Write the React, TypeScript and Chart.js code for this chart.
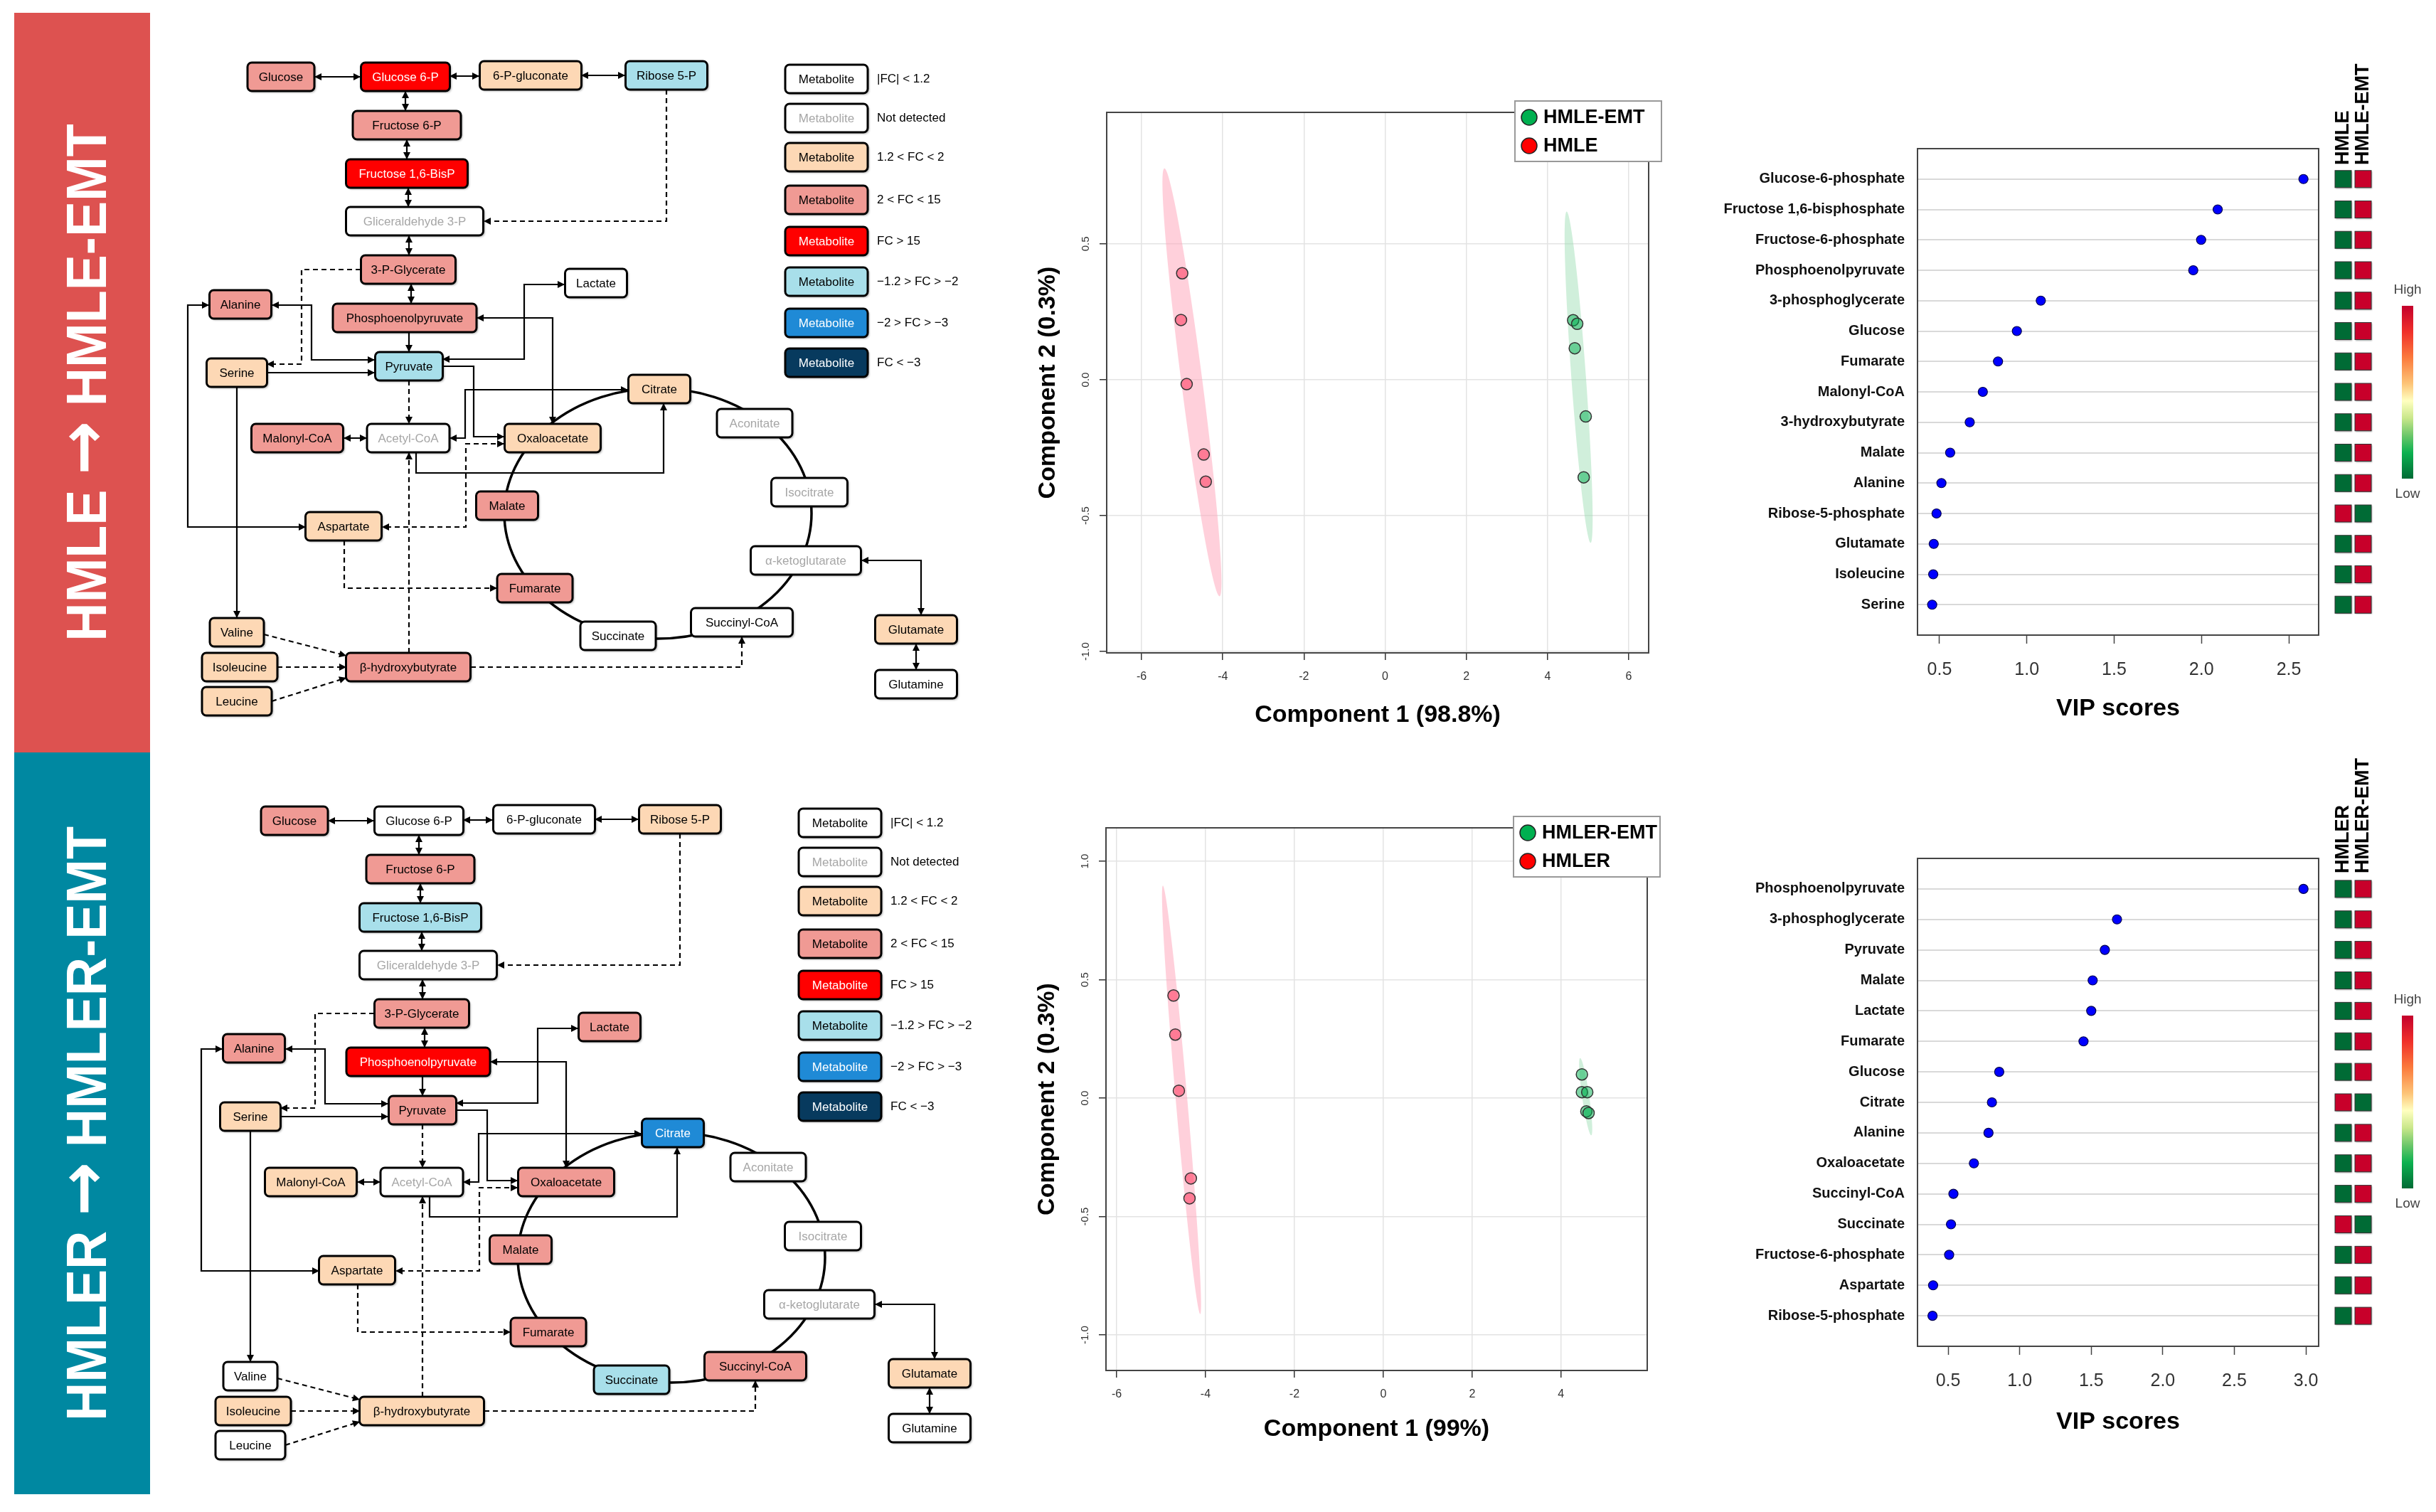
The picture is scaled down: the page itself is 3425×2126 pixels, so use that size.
import React, { useEffect, useRef } from 'react';
import { Chart, registerables } from 'chart.js';

Chart.register(...registerables);

const FONT = '"Liberation Sans", Arial, Helvetica, sans-serif';
Chart.defaults.font.family = FONT;

// ================= Pathway maps =================
const METABOLITES = ['Glucose', 'Glucose 6-P', '6-P-gluconate', 'Ribose 5-P', 'Fructose 6-P', 'Fructose 1,6-BisP',
  'Gliceraldehyde 3-P', '3-P-Glycerate', 'Phosphoenolpyruvate', 'Pyruvate', 'Alanine', 'Serine', 'Lactate', 'Citrate',
  'Malonyl-CoA', 'Acetyl-CoA', 'Oxaloacetate', 'Aconitate', 'Isocitrate', 'Malate', 'Aspartate', '\u03B1-ketoglutarate',
  'Fumarate', 'Succinate', 'Succinyl-CoA', 'Glutamate', 'Glutamine', 'Valine', 'Isoleucine', 'Leucine', '\u03B2-hydroxybutyrate'];
// diagram coordinates of node centres and node widths (diagram units)
const NODE_X = [395, 570, 746, 937, 572, 572, 583, 574, 569, 575, 338, 333, 838, 927, 418, 574, 777, 1061, 1138, 713, 483, 1133, 752, 869, 1043, 1288, 1288, 333, 337, 333, 574];
const NODE_Y = [108, 108, 106, 106, 176, 244, 311, 379, 447, 515, 428, 524, 398, 547, 616, 616, 616, 595, 692, 711, 740, 788, 827, 894, 875, 885, 962, 889, 938, 986, 938];
const NODE_W = [94, 125, 143, 115, 152, 171, 193, 133, 202, 95, 87, 85, 87, 87, 129, 116, 135, 106, 107, 87, 107, 155, 106, 106, 143, 115, 115, 76, 106, 98, 175];
// fold-change class of each metabolite (index into legend classes)
const LEVELS_HMLE = [3, 4, 2, 5, 3, 4, 1, 3, 3, 5, 3, 2, 0, 2, 3, 1, 2, 1, 1, 3, 2, 1, 3, 0, 0, 2, 0, 2, 2, 2, 3];
const LEVELS_HMLER = [3, 0, 0, 2, 3, 5, 1, 3, 4, 3, 3, 2, 3, 6, 2, 1, 3, 1, 1, 3, 2, 1, 3, 5, 3, 2, 0, 0, 2, 0, 2];
const LEGEND_LABELS = ['|FC| < 1.2', 'Not detected', '1.2 < FC < 2', '2 < FC < 15', 'FC > 15',
  '\u22121.2 > FC > \u22122', '\u22122 > FC > \u22123', 'FC < \u22123'];
const LEGEND_Y = [111, 166, 221, 281, 339, 396, 454, 510];
const LEVEL_FILL = ['#FFFFFF', '#FFFFFF', '#FDD8B5', '#F09A94', '#FF0000', '#A8DFEA', '#1F8AD6', '#073A5E'];
const LEVEL_TEXT = ['#000000', '#A6A6A6', '#000000', '#000000', '#FFFFFF', '#000000', '#FFFFFF', '#FFFFFF'];

type Edge = { p: number[][]; d?: boolean; s?: boolean; e?: boolean };
const EDGES: Edge[] = [
  { p: [[442, 108], [507, 108]], s: true, e: true },
  { p: [[632, 107], [674, 107]], s: true, e: true },
  { p: [[817, 106], [879, 106]], s: true, e: true },
  { p: [[570, 128], [570, 156]], s: true, e: true },
  { p: [[572, 196], [572, 224]], s: true, e: true },
  { p: [[574, 264], [574, 291]], s: true, e: true },
  { p: [[937, 126], [937, 311], [680, 311]], d: true, e: true },
  { p: [[575, 331], [575, 359]], s: true, e: true },
  { p: [[578, 399], [578, 427]], s: true, e: true },
  { p: [[507, 379], [424, 379], [424, 512], [375, 512]], d: true, e: true },
  { p: [[575, 467], [575, 495]], e: true },
  { p: [[527, 506], [438, 506], [438, 429], [382, 429]], s: true, e: true },
  { p: [[375, 524], [527, 524]], e: true },
  { p: [[622, 505], [737, 505], [737, 400], [794, 400]], s: true, e: true },
  { p: [[670, 447], [777, 447], [777, 596]], s: true, e: true },
  { p: [[622, 515], [666, 515], [666, 614], [709, 614]], e: true },
  { p: [[575, 535], [575, 596]], d: true, e: true },
  { p: [[483, 616], [516, 616]], s: true, e: true },
  { p: [[632, 616], [654, 616], [654, 548], [883, 548]], s: true, e: true },
  { p: [[585, 636], [585, 665], [933, 665], [933, 567]], e: true },
  { p: [[294, 429], [264, 429], [264, 741], [430, 741]], s: true, e: true },
  { p: [[709, 624], [655, 624], [655, 741], [537, 741]], d: true, s: true, e: true },
  { p: [[484, 760], [484, 827], [699, 827]], d: true, e: true },
  { p: [[333, 544], [333, 869]], e: true },
  { p: [[371, 892], [487, 922]], d: true, e: true },
  { p: [[390, 938], [487, 938]], d: true, e: true },
  { p: [[382, 986], [487, 953]], d: true, e: true },
  { p: [[575, 918], [575, 636]], d: true, e: true },
  { p: [[662, 938], [1043, 938], [1043, 895]], d: true, e: true },
  { p: [[1211, 788], [1295, 788], [1295, 865]], s: true, e: true },
  { p: [[1288, 905], [1288, 942]], s: true, e: true },
];
const TCA_CX = 925, TCA_CY = 722, TCA_RX = 216, TCA_RY = 176;

// ================= PLS-DA score plots =================
const PLS1_GROUPS = ['HMLE-EMT', 'HMLE'];
const PLS1_EMT_X = [4.63, 4.73, 4.67, 4.94, 4.89];
const PLS1_EMT_Y = [0.219, 0.206, 0.116, -0.135, -0.359];
const PLS1_CTRL_X = [-5.0, -5.03, -4.89, -4.47, -4.42];
const PLS1_CTRL_Y = [0.392, 0.22, -0.016, -0.275, -0.375];
const PLS1_EMT_ELLIPSE = [4.47, 0.619, 5.06, -0.6, 0.18];
const PLS1_CTRL_ELLIPSE = [-5.44, 0.778, -4.08, -0.797, 0.26];
const PLS1_X_TICKS = [-6, -4, -2, 0, 2, 4, 6];
const PLS1_Y_TICKS = [-1.0, -0.5, 0.0, 0.5];
const PLS1_X_TITLE = 'Component 1 (98.8%)';

const PLS2_GROUPS = ['HMLER-EMT', 'HMLER'];
const PLS2_EMT_X = [4.47, 4.47, 4.59, 4.57, 4.62];
const PLS2_EMT_Y = [0.1, 0.025, 0.025, -0.056, -0.063];
const PLS2_CTRL_X = [-4.72, -4.68, -4.6, -4.33, -4.36];
const PLS2_CTRL_Y = [0.433, 0.268, 0.031, -0.339, -0.423];
const PLS2_EMT_ELLIPSE = [4.43, 0.169, 4.68, -0.157, 0.08];
const PLS2_CTRL_ELLIPSE = [-4.96, 0.897, -4.12, -0.912, 0.13];
const PLS2_X_TICKS = [-6, -4, -2, 0, 2, 4];
const PLS2_Y_TICKS = [-1.0, -0.5, 0.0, 0.5, 1.0];
const PLS2_X_TITLE = 'Component 1 (99%)';
const PLS_Y_TITLE = 'Component 2 (0.3%)';

// ================= VIP scores =================
const VIP1_NAMES = ['Glucose-6-phosphate', 'Fructose 1,6-bisphosphate', 'Fructose-6-phosphate', 'Phosphoenolpyruvate',
  '3-phosphoglycerate', 'Glucose', 'Fumarate', 'Malonyl-CoA', '3-hydroxybutyrate', 'Malate', 'Alanine',
  'Ribose-5-phosphate', 'Glutamate', 'Isoleucine', 'Serine'];
const VIP1_SCORES = [2.584, 2.093, 1.998, 1.953, 1.08, 0.943, 0.835, 0.748, 0.673, 0.561, 0.511, 0.483, 0.467, 0.464, 0.458];
const VIP1_CTRL_HIGH = [0, 0, 0, 0, 0, 0, 0, 0, 0, 0, 0, 1, 0, 0, 0];
const VIP1_EMT_HIGH = [1, 1, 1, 1, 1, 1, 1, 1, 1, 1, 1, 0, 1, 1, 1];
const VIP1_X_TICKS = [0.5, 1.0, 1.5, 2.0, 2.5];

const VIP2_NAMES = ['Phosphoenolpyruvate', '3-phosphoglycerate', 'Pyruvate', 'Malate', 'Lactate', 'Fumarate', 'Glucose',
  'Citrate', 'Alanine', 'Oxaloacetate', 'Succinyl-CoA', 'Succinate', 'Fructose-6-phosphate', 'Aspartate', 'Ribose-5-phosphate'];
const VIP2_SCORES = [2.983, 1.68, 1.595, 1.51, 1.5, 1.446, 0.857, 0.806, 0.782, 0.68, 0.537, 0.52, 0.507, 0.395, 0.391];
const VIP2_CTRL_HIGH = [0, 0, 0, 0, 0, 0, 0, 1, 0, 0, 0, 1, 0, 0, 0];
const VIP2_EMT_HIGH = [1, 1, 1, 1, 1, 1, 1, 0, 1, 1, 1, 0, 1, 1, 1];
const VIP2_X_TICKS = [0.5, 1.0, 1.5, 2.0, 2.5, 3.0];

// ================= helpers =================
function roundRectPath(ctx: CanvasRenderingContext2D, x: number, y: number, w: number, h: number, r: number) {
  ctx.beginPath();
  ctx.moveTo(x + r, y);
  ctx.lineTo(x + w - r, y);
  ctx.arcTo(x + w, y, x + w, y + r, r);
  ctx.lineTo(x + w, y + h - r);
  ctx.arcTo(x + w, y + h, x + w - r, y + h, r);
  ctx.lineTo(x + r, y + h);
  ctx.arcTo(x, y + h, x, y + h - r, r);
  ctx.lineTo(x, y + r);
  ctx.arcTo(x, y, x + r, y, r);
  ctx.closePath();
}

function arrowHead(ctx: CanvasRenderingContext2D, fx: number, fy: number, tx: number, ty: number) {
  const len = 10, hw = 5;
  const a = Math.atan2(ty - fy, tx - fx);
  ctx.beginPath();
  ctx.moveTo(tx, ty);
  ctx.lineTo(tx - len * Math.cos(a) + hw * Math.sin(a), ty - len * Math.sin(a) - hw * Math.cos(a));
  ctx.lineTo(tx - len * Math.cos(a) - hw * Math.sin(a), ty - len * Math.sin(a) + hw * Math.cos(a));
  ctx.closePath();
  ctx.fill();
}

function drawBox(ctx: CanvasRenderingContext2D, cx: number, cy: number, w: number, h: number, text: string, level: number) {
  const x = cx - w / 2, y = cy - h / 2;
  ctx.save();
  ctx.shadowColor = 'rgba(0,0,0,0.35)';
  ctx.shadowBlur = 3;
  ctx.shadowOffsetX = 2;
  ctx.shadowOffsetY = 2;
  roundRectPath(ctx, x, y, w, h, 6);
  ctx.fillStyle = LEVEL_FILL[level];
  ctx.fill();
  ctx.shadowColor = 'transparent';
  ctx.lineWidth = 3;
  ctx.strokeStyle = '#000';
  ctx.stroke();
  ctx.fillStyle = LEVEL_TEXT[level];
  ctx.font = `17px ${FONT}`;
  ctx.textAlign = 'center';
  ctx.textBaseline = 'middle';
  ctx.fillText(text, cx, cy + 1);
  ctx.restore();
}

// ================= components =================
function Banner({ top, height, color, from, to, sx }: { top: number; height: number; color: string; from: string; to: string; sx: number }) {
  return (
    <div style={{ position: 'absolute', left: 20, top, width: 191, height, background: color, display: 'flex', alignItems: 'center', justifyContent: 'center', overflow: 'visible' }}>
      <span style={{ color: '#fff', fontFamily: FONT, fontWeight: 700, fontSize: 80, lineHeight: 1, whiteSpace: 'nowrap', display: 'inline-block', transform: `rotate(-90deg) scaleX(${sx})` }}>
        {from} <span style={{ fontFamily: '"DejaVu Sans", sans-serif', fontWeight: 700, fontSize: 96 }}>{'\u2192'}</span> {to}
      </span>
    </div>
  );
}

function Pathway({ left, top, levels }: { left: number; top: number; levels: number[] }) {
  const ref = useRef<HTMLCanvasElement>(null);
  const W = 1180, H = 1000;
  useEffect(() => {
    if (!ref.current) return;
    const plugin = {
      id: 'pathway',
      afterDatasetsDraw(chart: any) {
        const ctx: CanvasRenderingContext2D = chart.ctx;
        const sx = chart.scales.x, sy = chart.scales.y;
        const X = (v: number) => sx.getPixelForValue(v);
        const Y = (v: number) => sy.getPixelForValue(v);
        ctx.save();
        // TCA cycle
        ctx.strokeStyle = '#000';
        ctx.lineWidth = 3.5;
        ctx.beginPath();
        ctx.ellipse(X(TCA_CX), Y(TCA_CY), X(TCA_CX + TCA_RX) - X(TCA_CX), Y(TCA_CY + TCA_RY) - Y(TCA_CY), 0, 0, Math.PI * 2);
        ctx.stroke();
        // reactions
        ctx.lineWidth = 2.2;
        ctx.fillStyle = '#000';
        EDGES.forEach((e) => {
          const pts = e.p.map(([a, b]) => [X(a), Y(b)]);
          ctx.setLineDash(e.d ? [7, 5] : []);
          ctx.beginPath();
          pts.forEach(([a, b], i) => (i ? ctx.lineTo(a, b) : ctx.moveTo(a, b)));
          ctx.stroke();
          ctx.setLineDash([]);
          if (e.s) arrowHead(ctx, pts[1][0], pts[1][1], pts[0][0], pts[0][1]);
          if (e.e) {
            const n = pts.length;
            arrowHead(ctx, pts[n - 2][0], pts[n - 2][1], pts[n - 1][0], pts[n - 1][1]);
          }
        });
        // metabolites
        METABOLITES.forEach((name, i) => {
          const w = X(NODE_X[i] + NODE_W[i] / 2) - X(NODE_X[i] - NODE_W[i] / 2);
          drawBox(ctx, X(NODE_X[i]), Y(NODE_Y[i]), w, 40, name, levels[i]);
        });
        // legend
        LEGEND_LABELS.forEach((lab, i) => {
          drawBox(ctx, X(1162), Y(LEGEND_Y[i]), 116, 40, 'Metabolite', i);
          ctx.fillStyle = '#000';
          ctx.font = `17px ${FONT}`;
          ctx.textAlign = 'left';
          ctx.textBaseline = 'middle';
          ctx.fillText(lab, X(1233), Y(LEGEND_Y[i]));
        });
        ctx.restore();
      },
    };
    const chart = new Chart(ref.current, {
      type: 'scatter',
      data: { datasets: [{ data: NODE_X.map((x, i) => ({ x, y: NODE_Y[i] })), pointRadius: 0 }] },
      options: {
        responsive: false, animation: false, events: [],
        layout: { padding: 0 },
        plugins: { legend: { display: false }, tooltip: { enabled: false } },
        scales: {
          x: { type: 'linear', min: 240, max: 1420, display: false },
          y: { type: 'linear', min: 40, max: 1040, reverse: true, display: false },
        },
      },
      plugins: [plugin],
    } as any);
    return () => chart.destroy();
  }, []);
  return <canvas ref={ref} width={W} height={H} style={{ position: 'absolute', left, top, width: W, height: H }} />;
}

type ScoreProps = {
  left: number; top: number; area: number[]; xMin: number; xMax: number; yMin: number; yMax: number;
  xTicks: number[]; yTicks: number[]; xTitle: string; xTitleCy: number; yTitleCx: number;
  groups: string[]; emtX: number[]; emtY: number[]; ctrlX: number[]; ctrlY: number[]; emtEll: number[]; ctrlEll: number[];
};

function ScorePlot(p: ScoreProps) {
  const ref = useRef<HTMLCanvasElement>(null);
  const W = 940, H = 950;
  useEffect(() => {
    if (!ref.current) return;
    const [al, at, ar, ab] = p.area;
    const padTop = at - p.top, padRight = p.left + W - ar, yW = al - p.left, xH = p.top + H - ab;
    const titleLH = 34 * 1.2;
    const xPb = p.top + H - p.xTitleCy - titleLH / 2;
    const yPt = p.yTitleCx - p.left - titleLH / 2;
    const ells = [
      { e: p.emtEll, c: 'rgba(150,220,175,0.45)' },
      { e: p.ctrlEll, c: 'rgba(255,170,190,0.55)' },
    ];
    const plugin = {
      id: 'plsExtras',
      beforeDatasetsDraw(chart: any) {
        const { ctx, chartArea: a } = chart;
        const sx = chart.scales.x, sy = chart.scales.y;
        ctx.save();
        ctx.beginPath();
        ctx.rect(a.left, a.top, a.right - a.left, a.bottom - a.top);
        ctx.clip();
        ells.forEach(({ e, c }) => {
          const [x1, y1, x2, y2, hw] = e;
          const p1x = sx.getPixelForValue(x1), p1y = sy.getPixelForValue(y1);
          const p2x = sx.getPixelForValue(x2), p2y = sy.getPixelForValue(y2);
          const ra = Math.hypot(p2x - p1x, p2y - p1y) / 2;
          const rb = Math.abs(sx.getPixelForValue(x1 + hw) - p1x);
          const ang = Math.atan2(p2y - p1y, p2x - p1x);
          ctx.beginPath();
          ctx.ellipse((p1x + p2x) / 2, (p1y + p2y) / 2, ra, rb, ang, 0, Math.PI * 2);
          ctx.fillStyle = c;
          ctx.fill();
        });
        ctx.restore();
      },
      afterDraw(chart: any) {
        const { ctx, chartArea: a } = chart;
        const sy = chart.scales.y;
        ctx.save();
        ctx.strokeStyle = '#444';
        ctx.lineWidth = 2;
        ctx.strokeRect(a.left, a.top, a.right - a.left, a.bottom - a.top);
        // rotated y tick labels
        ctx.fillStyle = '#333';
        ctx.font = `15px ${FONT}`;
        ctx.textAlign = 'center';
        ctx.textBaseline = 'middle';
        p.yTicks.forEach((v) => {
          const py = sy.getPixelForValue(v);
          ctx.save();
          ctx.translate(a.left - 29, py);
          ctx.rotate(-Math.PI / 2);
          ctx.fillText(v.toFixed(1), 0, 0);
          ctx.restore();
        });
        // legend
        const lx = a.right - 188, ly = a.top - 16, lw = 206, lh = 85;
        ctx.fillStyle = '#fff';
        ctx.fillRect(lx, ly, lw, lh);
        ctx.strokeStyle = '#999';
        ctx.lineWidth = 2;
        ctx.strokeRect(lx, ly, lw, lh);
        const cols = ['#00B050', '#FF0000'];
        p.groups.forEach((g, i) => {
          const cy = ly + 23 + i * 40;
          ctx.beginPath();
          ctx.arc(lx + 20, cy, 11, 0, Math.PI * 2);
          ctx.fillStyle = cols[i];
          ctx.fill();
          ctx.lineWidth = 1.5;
          ctx.strokeStyle = '#222';
          ctx.stroke();
          ctx.fillStyle = '#000';
          ctx.font = `bold 27px ${FONT}`;
          ctx.textAlign = 'left';
          ctx.textBaseline = 'middle';
          ctx.fillText(g, lx + 40, cy + 1);
        });
        ctx.restore();
      },
    };
    const chart = new Chart(ref.current, {
      type: 'scatter',
      data: {
        datasets: [
          {
            label: p.groups[0], data: p.emtX.map((x, i) => ({ x, y: p.emtY[i] })),
            backgroundColor: 'rgba(0,176,80,0.5)', borderColor: '#333', borderWidth: 1.5, pointRadius: 8,
          },
          {
            label: p.groups[1], data: p.ctrlX.map((x, i) => ({ x, y: p.ctrlY[i] })),
            backgroundColor: 'rgba(255,40,80,0.5)', borderColor: '#333', borderWidth: 1.5, pointRadius: 8,
          },
        ],
      },
      options: {
        responsive: false, animation: false, events: [],
        layout: { padding: { top: padTop, right: padRight, left: 0, bottom: 0 } },
        plugins: { legend: { display: false }, tooltip: { enabled: false } },
        scales: {
          x: {
            type: 'linear', min: p.xMin, max: p.xMax,
            afterBuildTicks: (s: any) => { s.ticks = p.xTicks.map((v) => ({ value: v })); },
            afterFit: (s: any) => { s.height = xH; },
            grid: { color: '#E3E3E3', lineWidth: 1.5, tickColor: '#333', tickLength: 10, tickWidth: 1.5 },
            border: { display: false },
            ticks: { color: '#333', font: { size: 16 }, padding: 14, maxRotation: 0, callback: (v: any) => String(v) },
            title: { display: true, text: p.xTitle, color: '#000', font: { size: 34, weight: 'bold' }, padding: { top: 0, bottom: xPb } },
          },
          y: {
            type: 'linear', min: p.yMin, max: p.yMax,
            afterBuildTicks: (s: any) => { s.ticks = p.yTicks.map((v) => ({ value: v })); },
            afterFit: (s: any) => { s.width = yW; },
            grid: { color: '#E3E3E3', lineWidth: 1.5, tickColor: '#333', tickLength: 10, tickWidth: 1.5 },
            border: { display: false },
            ticks: { display: false },
            title: { display: true, text: PLS_Y_TITLE, color: '#000', font: { size: 34, weight: 'bold' }, padding: { top: yPt, bottom: 0 } },
          },
        },
      },
      plugins: [plugin],
    } as any);
    return () => chart.destroy();
  }, []);
  return <canvas ref={ref} width={W} height={H} style={{ position: 'absolute', left: p.left, top: p.top, width: W, height: H }} />;
}

type VipProps = {
  top: number; area: number[]; xMin: number; xMax: number; xTicks: number[]; titleCy: number;
  names: string[]; scores: number[]; ctrlHigh: number[]; emtHigh: number[]; groups: string[]; headerDrop: number;
};

function VipPlot(p: VipProps) {
  const ref = useRef<HTMLCanvasElement>(null);
  const left = 2380, W = 1045, H = 1000;
  useEffect(() => {
    if (!ref.current) return;
    const [al, at, ar, ab] = p.area;
    const padTop = at - p.top, padRight = left + W - ar, yW = al - left, xH = p.top + H - ab;
    const xPb = p.top + H - p.titleCy - (34 * 1.2) / 2;
    const plugin = {
      id: 'vipExtras',
      afterDraw(chart: any) {
        const { ctx, chartArea: a } = chart;
        const sy = chart.scales.y;
        ctx.save();
        ctx.strokeStyle = '#444';
        ctx.lineWidth = 2;
        ctx.strokeRect(a.left, a.top, a.right - a.left, a.bottom - a.top);
        // heat squares
        const GREEN = '#006B35', RED = '#C8002A';
        p.names.forEach((_, i) => {
          const cy = sy.getPixelForValue(i);
          [p.ctrlHigh[i], p.emtHigh[i]].forEach((hi, j) => {
            const x0 = a.right + 23 + j * 28;
            ctx.save();
            ctx.shadowColor = 'rgba(0,0,0,0.35)';
            ctx.shadowBlur = 2;
            ctx.shadowOffsetX = 1;
            ctx.shadowOffsetY = 1;
            ctx.fillStyle = hi ? RED : GREEN;
            ctx.fillRect(x0, cy - 12, 23, 24);
            ctx.restore();
            ctx.strokeStyle = '#333';
            ctx.lineWidth = 1;
            ctx.strokeRect(x0, cy - 12, 23, 24);
          });
        });
        // column headers
        ctx.fillStyle = '#000';
        ctx.font = `bold 27px ${FONT}`;
        ctx.textAlign = 'left';
        ctx.textBaseline = 'middle';
        p.groups.forEach((g, j) => {
          ctx.save();
          ctx.translate(a.right + 35 + j * 28, a.top + p.headerDrop);
          ctx.rotate(-Math.PI / 2);
          ctx.fillText(g, 0, 0);
          ctx.restore();
        });
        // colour key
        const bx = a.right + 117, bt = a.top + 221, bb = a.top + 464;
        const grad = ctx.createLinearGradient(0, bt, 0, bb);
        const stops: [number, string][] = [[0, '#C4002C'], [0.15, '#F0302A'], [0.3, '#FB7A3C'], [0.45, '#FDC477'], [0.55, '#FFFFC0'],
          [0.65, '#C9E78A'], [0.75, '#6CC76A'], [0.85, '#0CB150'], [1, '#006B35']];
        stops.forEach(([o, c]) => grad.addColorStop(o, c));
        ctx.fillStyle = grad;
        ctx.fillRect(bx, bt, 16, bb - bt);
        ctx.fillStyle = '#444';
        ctx.font = `19px ${FONT}`;
        ctx.textAlign = 'center';
        ctx.fillText('High', bx + 8, a.top + 199);
        ctx.fillText('Low', bx + 8, a.top + 486);
        ctx.restore();
      },
    };
    const chart = new Chart(ref.current, {
      type: 'scatter',
      data: {
        datasets: [{
          label: 'VIP', data: p.scores.map((v, i) => ({ x: v, y: i })),
          backgroundColor: '#0000FF', borderColor: '#000050', borderWidth: 1.2, pointRadius: 6.5,
        }],
      },
      options: {
        responsive: false, animation: false, events: [],
        layout: { padding: { top: padTop, right: padRight, left: 0, bottom: 0 } },
        plugins: { legend: { display: false }, tooltip: { enabled: false } },
        scales: {
          x: {
            type: 'linear', min: p.xMin, max: p.xMax,
            afterBuildTicks: (s: any) => { s.ticks = p.xTicks.map((v) => ({ value: v })); },
            afterFit: (s: any) => { s.height = xH; },
            grid: { drawOnChartArea: false, drawTicks: true, tickColor: '#444', tickLength: 12, tickWidth: 1.5 },
            border: { display: false },
            ticks: { color: '#333', font: { size: 25 }, padding: 22, maxRotation: 0, callback: (v: any) => Number(v).toFixed(1) },
            title: { display: true, text: 'VIP scores', color: '#000', font: { size: 34, weight: 'bold' }, padding: { top: 0, bottom: xPb } },
          },
          y: {
            type: 'linear', min: -1, max: p.names.length, reverse: true,
            afterBuildTicks: (s: any) => { s.ticks = p.names.map((_, i) => ({ value: i })); },
            afterFit: (s: any) => { s.width = yW; },
            grid: { color: '#D9D9D9', lineWidth: 2, drawTicks: false },
            border: { display: false },
            ticks: { color: '#111', font: { size: 20, weight: 'bold' }, padding: 18, callback: (v: any) => p.names[v] ?? '' },
          },
        },
      },
      plugins: [plugin],
    } as any);
    return () => chart.destroy();
  }, []);
  return <canvas ref={ref} width={W} height={H} style={{ position: 'absolute', left, top: p.top, width: W, height: H }} />;
}

export default function App() {
  return (
    <div style={{ position: 'absolute', left: 0, top: 0, width: 3425, height: 2126, background: '#fff', overflow: 'hidden', fontFamily: FONT }}>
      <Banner top={18} height={1040} color="#DD5250" from="HMLE" to="HMLE-EMT" sx={0.94} />
      <Banner top={1058} height={1043} color="#0088A1" from="HMLER" to="HMLER-EMT" sx={0.94} />
      <Pathway left={240} top={40} levels={LEVELS_HMLE} />
      <Pathway left={259} top={1086} levels={LEVELS_HMLER} />
      <ScorePlot left={1420} top={100} area={[1556, 158, 2318, 918]} xMin={-6.86} xMax={6.49} yMin={-1.005} yMax={0.984}
        xTicks={PLS1_X_TICKS} yTicks={PLS1_Y_TICKS} xTitle={PLS1_X_TITLE} xTitleCy={1006} yTitleCx={1474}
        groups={PLS1_GROUPS} emtX={PLS1_EMT_X} emtY={PLS1_EMT_Y} ctrlX={PLS1_CTRL_X} ctrlY={PLS1_CTRL_Y}
        emtEll={PLS1_EMT_ELLIPSE} ctrlEll={PLS1_CTRL_ELLIPSE} />
      <ScorePlot left={1420} top={1110} area={[1555, 1164, 2316, 1927]} xMin={-6.24} xMax={5.94} yMin={-1.15} yMax={1.141}
        xTicks={PLS2_X_TICKS} yTicks={PLS2_Y_TICKS} xTitle={PLS2_X_TITLE} xTitleCy={2010} yTitleCx={1473}
        groups={PLS2_GROUPS} emtX={PLS2_EMT_X} emtY={PLS2_EMT_Y} ctrlX={PLS2_CTRL_X} ctrlY={PLS2_CTRL_Y}
        emtEll={PLS2_EMT_ELLIPSE} ctrlEll={PLS2_CTRL_ELLIPSE} />
      <VipPlot top={60} area={[2696, 209, 3260, 893]} xMin={0.374} xMax={2.671} xTicks={VIP1_X_TICKS} titleCy={997}
        names={VIP1_NAMES} scores={VIP1_SCORES} ctrlHigh={VIP1_CTRL_HIGH} emtHigh={VIP1_EMT_HIGH} groups={['HMLE', 'HMLE-EMT']} headerDrop={23} />
      <VipPlot top={1060} area={[2696, 1207, 3260, 1893]} xMin={0.286} xMax={3.089} xTicks={VIP2_X_TICKS} titleCy={2000}
        names={VIP2_NAMES} scores={VIP2_SCORES} ctrlHigh={VIP2_CTRL_HIGH} emtHigh={VIP2_EMT_HIGH} groups={['HMLER', 'HMLER-EMT']} headerDrop={21} />
    </div>
  );
}
